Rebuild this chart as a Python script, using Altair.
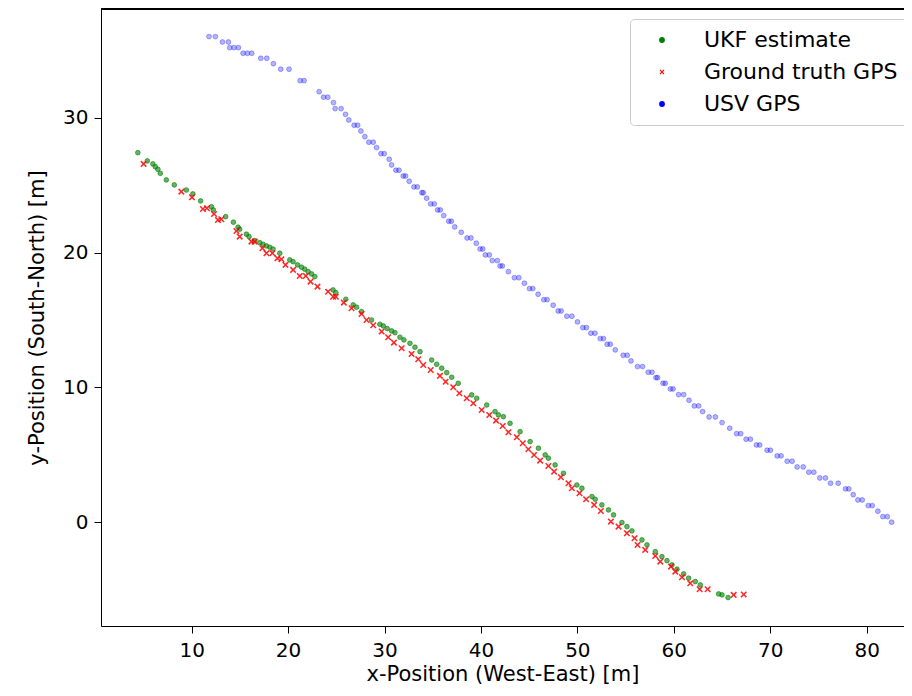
import altair as alt
import pandas as pd

# ---- data (metres) ----
ukf_x = [4.42, 5.40, 5.98, 6.23, 6.50, 6.75, 7.37, 8.20, 9.45, 10.13, 10.93, 12.05, 12.25, 13.53,
         14.33, 14.81, 14.98, 15.68, 15.95, 16.54, 17.06, 17.40, 17.76, 18.10, 18.44, 19.14, 20.18,
         20.52, 20.98, 21.39, 21.73, 22.08, 22.43, 22.77, 24.67, 24.95, 25.99, 26.75, 27.10, 27.62,
         28.66, 29.52, 29.87, 30.28, 30.74, 31.08, 31.60, 32.01, 32.64, 33.16, 33.68, 34.89, 35.41,
         35.93, 36.45, 36.97, 37.65, 39.04, 39.56, 40.60, 41.46, 41.81, 42.33, 43.02, 44.06, 45.10,
         45.96, 46.66, 47.00, 47.69, 48.56, 49.95, 50.47, 51.51, 51.85, 52.54, 53.23, 53.75, 54.62,
         55.14, 55.66, 56.70, 57.22, 58.08, 58.77, 59.29, 59.81, 60.33, 61.02, 61.54, 62.23, 62.75,
         64.65, 65.00, 65.63]
ukf_y = [27.42, 26.81, 26.59, 26.38, 26.19, 25.89, 25.40, 25.03, 24.65, 24.36, 23.84, 23.41, 23.17, 22.67,
         22.26, 21.89, 21.74, 21.37, 21.19, 20.89, 20.74, 20.62, 20.50, 20.40, 20.27, 19.96, 19.46,
         19.33, 19.09, 18.92, 18.77, 18.59, 18.42, 18.22, 17.23, 17.03, 16.54, 16.12, 15.95, 15.62,
         15.00, 14.68, 14.56, 14.36, 14.19, 14.06, 13.72, 13.52, 13.27, 12.98, 12.65, 12.03, 11.71,
         11.42, 11.09, 10.75, 10.30, 9.44, 9.19, 8.69, 8.20, 7.95, 7.82, 7.33, 6.71, 5.97,
         5.48, 4.98, 4.74, 4.24, 3.62, 2.75, 2.51, 1.89, 1.69, 1.27, 0.90, 0.53, -0.04,
         -0.34, -0.66, -1.33, -1.70, -2.20, -2.57, -2.87, -3.18, -3.50, -3.85, -4.17, -4.42, -4.67,
         -5.34, -5.41, -5.61]

gt_x = [5.02, 8.93, 10.03, 11.17, 11.59, 12.32, 12.73, 13.08, 14.64, 14.98, 16.20, 16.54, 17.34,
        17.76, 18.38, 18.90, 19.31, 19.73, 20.52, 21.21, 21.84, 22.33, 23.05, 24.15, 24.67, 24.95,
        25.78, 26.58, 27.62, 28.14, 28.83, 29.70, 30.38, 30.98, 31.78, 32.81, 33.50, 34.02, 34.79,
        35.75, 36.34, 37.13, 37.76, 38.53, 39.21, 40.08, 40.87, 41.57, 42.26, 42.85, 43.72, 44.34,
        44.92, 45.51, 46.14, 47.00, 47.59, 48.29, 49.08, 49.43, 50.22, 50.91, 51.74, 52.44, 53.48,
        54.27, 55.14, 55.93, 56.24, 57.04, 58.08, 58.60, 59.71, 60.16, 60.85, 61.71, 62.68, 63.51,
        66.21, 67.25]
gt_y = [26.59, 24.53, 24.11, 23.24, 23.30, 22.87, 22.43, 22.48, 21.61, 21.19, 20.82, 20.82, 20.33,
        19.96, 19.96, 19.58, 19.51, 19.09, 18.72, 18.27, 18.27, 17.85, 17.48, 17.10, 16.73, 16.73,
        16.29, 15.87, 15.45, 15.00, 14.61, 14.14, 13.72, 13.32, 12.90, 12.48, 12.09, 11.66, 11.29,
        10.85, 10.42, 10.01, 9.56, 9.19, 8.82, 8.32, 7.95, 7.53, 7.13, 6.67, 6.30, 5.85,
        5.40, 4.98, 4.56, 4.16, 3.74, 3.33, 2.88, 2.51, 2.14, 1.69, 1.27, 0.82, 0.03,
        -0.34, -0.83, -1.20, -1.70, -2.07, -2.52, -2.94, -3.31, -3.68, -4.10, -4.54, -4.99, -4.99,
        -5.41, -5.38]

usv_x = [11.80, 12.46, 13.19, 13.81, 13.95, 14.39, 14.85, 15.33, 15.78, 16.23, 17.17, 17.79, 18.48,
         19.24, 20.10, 21.25, 21.66, 23.22, 23.68, 24.12, 24.71, 24.88, 25.50, 25.96, 26.30, 26.85,
         27.21, 27.55, 27.96, 28.38, 28.83, 29.18, 29.63, 29.97, 30.49, 30.74, 31.18, 31.50, 31.94,
         32.19, 32.56, 33.05, 33.40, 33.88, 34.02, 34.37, 34.79, 35.16, 35.51, 35.78, 36.14, 36.66,
         36.93, 37.28, 37.96, 38.56, 38.97, 39.52, 39.91, 40.19, 40.46, 40.87, 41.18, 41.70, 41.98,
         42.22, 42.85, 43.47, 43.93, 44.51, 45.03, 45.38, 45.93, 46.52, 46.86, 47.49, 48.01, 48.32,
         48.91, 49.43, 50.01, 50.57, 50.94, 51.40, 51.82, 52.37, 52.71, 53.09, 53.41, 53.93, 54.76,
         55.17, 55.56, 56.24, 56.76, 57.35, 57.74, 58.15, 58.32, 58.88, 59.12, 59.64, 59.92, 60.50,
         61.02, 61.58, 62.13, 62.58, 62.99, 63.66, 64.31, 65.01, 65.80, 66.52, 66.94, 67.50, 67.94,
         68.57, 68.91, 69.68, 70.02, 70.72, 71.13, 71.76, 72.27, 72.79, 73.42, 74.00, 74.52, 75.14,
         75.73, 76.25, 77.05, 77.81, 78.15, 78.61, 79.09, 79.54, 80.17, 80.58, 81.16, 81.68, 82.14,
         82.59]
usv_y = [36.04, 36.04, 35.64, 35.64, 35.22, 35.22, 35.22, 34.80, 34.80, 34.80, 34.43, 34.43, 34.03,
         33.62, 33.62, 32.77, 32.77, 31.95, 31.54, 31.54, 31.14, 30.69, 30.69, 30.27, 29.85, 29.46,
         29.46, 29.03, 28.61, 28.20, 28.20, 27.80, 27.35, 27.35, 26.93, 26.51, 26.12, 26.12, 25.69,
         25.69, 25.30, 24.88, 24.88, 24.45, 24.45, 24.04, 23.62, 23.62, 23.17, 23.17, 22.75, 22.33,
         22.33, 21.91, 21.51, 21.09, 21.09, 20.70, 20.27, 20.27, 19.83, 19.83, 19.41, 19.41, 19.01,
         19.01, 18.59, 18.14, 18.14, 17.73, 17.33, 17.33, 16.91, 16.51, 16.51, 16.10, 15.67, 15.67,
         15.28, 15.28, 14.86, 14.43, 14.43, 14.02, 14.02, 13.62, 13.62, 13.20, 13.20, 12.78, 12.38,
         12.38, 11.96, 11.54, 11.54, 11.12, 11.12, 10.72, 10.72, 10.30, 10.30, 9.88, 9.88, 9.46,
         9.46, 9.04, 8.62, 8.62, 8.20, 7.80, 7.80, 7.38, 6.96, 6.56, 6.56, 6.15, 6.15,
         5.72, 5.72, 5.33, 5.33, 4.91, 4.91, 4.51, 4.51, 4.09, 4.09, 3.70, 3.70, 3.27,
         3.27, 2.88, 2.88, 2.46, 2.46, 2.03, 1.64, 1.64, 1.22, 1.22, 0.80, 0.40, 0.40,
         -0.01]

series_names = ["UKF estimate", "Ground truth GPS", "USV GPS"]
series_colors = ["#008000", "#ff0000", "#0000ff"]
x_ticks = [10, 20, 30, 40, 50, 60, 70, 80]
y_ticks = [0, 10, 20, 30]

rows = []
for name, xs, ys in zip(series_names, [ukf_x, gt_x, usv_x], [ukf_y, gt_y, usv_y]):
    for xv, yv in zip(xs, ys):
        rows.append({"x": xv, "y": yv, "series": name})
df = pd.DataFrame(rows)

W, H = 803, 617
PX_PER_X = 9.643
FONT = "DejaVu Sans"
XPATH = ("M0.57,-0.85L0.85,-0.57L0.28,0L0.85,0.57L0.57,0.85L0,0.28L-0.57,0.85"
         "L-0.85,0.57L-0.28,0L-0.85,-0.57L-0.57,-0.85L0,-0.28Z")

legend = alt.Legend(
    title=None, orient="none", legendX=529, legendY=10,
    padding=10, symbolOffset=11, labelOffset=31, rowPadding=10,
    labelFont=FONT, labelFontSize=22, labelColor="black", labelLimit=400,
    symbolSize=34, symbolStrokeWidth=0, symbolOpacity=1,
    strokeColor="#cccccc", fillColor="white", cornerRadius=4,
)

x_enc = alt.X("x:Q",
              scale=alt.Scale(domain=[0.6, 0.6 + W / PX_PER_X], nice=False, zero=False),
              axis=alt.Axis(values=x_ticks, title="x-Position (West-East) [m]", grid=False,
                            labelFont=FONT, labelFontSize=20, labelColor="black", labelPadding=7,
                            titleFont=FONT, titleFontSize=21, titleFontWeight="normal",
                            titleColor="black", titlePadding=3,
                            domainColor="black", tickColor="black", tickSize=7, labelFlush=False))
y_enc = alt.Y("y:Q",
              scale=alt.Scale(domain=[-7.72, 38.09], nice=False, zero=False),
              axis=alt.Axis(values=y_ticks, title="y-Position (South-North) [m]", grid=False,
                            labelFont=FONT, labelFontSize=20, labelColor="black", labelPadding=6,
                            titleFont=FONT, titleFontSize=21, titleFontWeight="normal",
                            titleColor="black", titlePadding=15,
                            domainColor="black", tickColor="black", tickSize=7, labelFlush=False))
color_enc = alt.Color("series:N", scale=alt.Scale(domain=series_names, range=series_colors),
                      legend=legend)
shape_enc = alt.Shape("series:N", scale=alt.Scale(domain=series_names,
                                                  range=["circle", XPATH, "circle"]),
                      legend=legend)


def series_layer(name, **mark_kwargs):
    return alt.Chart(df).transform_filter(alt.datum.series == name).mark_point(
        filled=True, **mark_kwargs
    ).encode(x=x_enc, y=y_enc, color=color_enc, shape=shape_enc)


ukf_layer = series_layer("UKF estimate", size=22, fillOpacity=0.6, stroke="#008000",
                         strokeWidth=1, strokeOpacity=0.6)
gt_layer = series_layer("Ground truth GPS", size=60, fillOpacity=0.85, strokeWidth=0)
usv_layer = series_layer("USV GPS", size=24, fillOpacity=0.3, stroke="#0000ff",
                         strokeWidth=1, strokeOpacity=0.3)

top_border = alt.Chart(df).mark_rule(color="black", strokeWidth=1).encode(
    x=alt.value(0), x2=alt.value(W), y=alt.value(0)
)

chart = alt.layer(ukf_layer, gt_layer, usv_layer, top_border).properties(
    width=W, height=H,
    autosize=alt.AutoSizeParams(type="none"),
    padding={"left": 93, "top": 1, "right": 0, "bottom": 62},
).configure_view(stroke=None).configure(background="white")

chart.save("out.html", embed_options={"renderer": "svg", "actions": False})
